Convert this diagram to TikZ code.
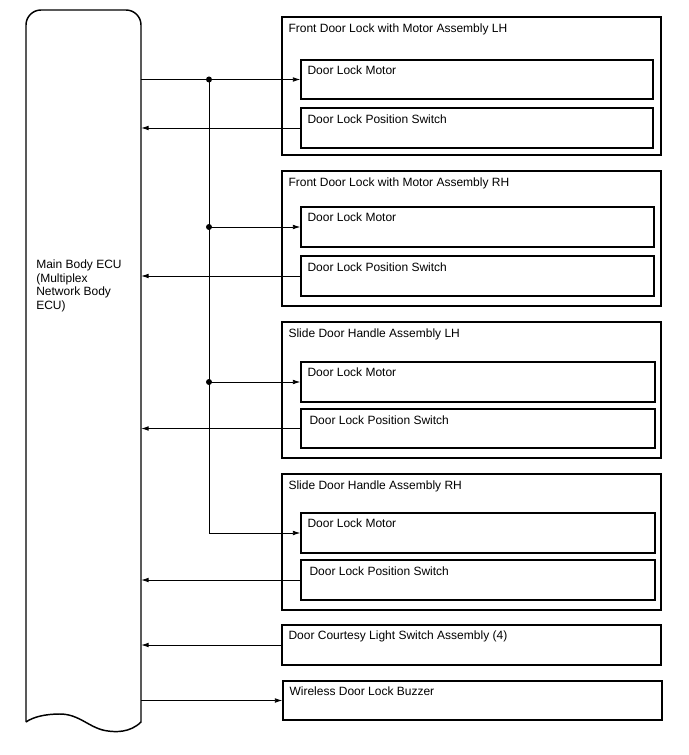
\documentclass[tikz,border=0pt]{standalone}
\usepackage{fontspec}
\setmainfont{Liberation Sans}
\usetikzlibrary{arrows.meta,fit,calc}
\begin{document}
\begin{tikzpicture}[x=0.75pt,y=-0.75pt,
  box/.style={draw, line width=1.1pt, inner sep=0pt},
  lbl/.style={anchor=base west, inner sep=0pt, font=\fontsize{9}{10.5}\selectfont},
  conn/.style={line width=0.6pt},
  arr/.style={conn, -{Latex[length=5.5pt,width=3.5pt]}},
  dot/.style={circle, fill, inner sep=0pt, minimum size=4.5pt}]
\useasboundingbox (0,0) rectangle (688,755);
% ECU
\node[inner sep=0pt, fit={(26,10)(141,722)}] (ecu) {};
\draw[line width=1.1pt] (26,722) -- (26,25) arc[start angle=180,end angle=90,radius=15*0.75pt] -- (126,10)
  arc[start angle=90,end angle=0,radius=15*0.75pt] -- (141,722)
  .. controls (130,733) and (115,732) .. (108,731)
  .. controls (90,729) and (80,714) .. (60,714)
  .. controls (45,714) and (33,717) .. (26,722);
\node[anchor=north west, inner sep=0pt, align=left, font=\fontsize{9}{10.1}\selectfont] (ecut) at (36,260)
  {Main Body ECU\\(Multiplex\\Network Body\\ECU)};
% boxes
\node[box, fit={(282,17)(661,155)}] (o1) {};
\node[box, fit={(301,60)(653,99)}] (m1) {};
\node[box, fit={(301,108)(653,148)}] (s1) {};
\node[box, fit={(282,171)(661,306)}] (o2) {};
\node[box, fit={(301,207)(654,247)}] (m2) {};
\node[box, fit={(301,256)(654,296)}] (s2) {};
\node[box, fit={(282,322)(661,458)}] (o3) {};
\node[box, fit={(301,362)(655,402)}] (m3) {};
\node[box, fit={(301,409)(655,448)}] (s3) {};
\node[box, fit={(282,474)(661,610)}] (o4) {};
\node[box, fit={(301,513)(655,553)}] (m4) {};
\node[box, fit={(301,560)(655,600)}] (s4) {};
\node[box, fit={(282,625)(661,665)}] (dc) {};
\node[box, fit={(283,681)(662,720)}] (bz) {};
% labels
\node[lbl] (t1) at ($(o1.north west)+(7,16)$) {Front Door Lock with Motor Assembly LH};
\node[lbl] (t2) at ($(o2.north west)+(7,16)$) {Front Door Lock with Motor Assembly RH};
\node[lbl] (t3) at ($(o3.north west)+(7,16)$) {Slide Door Handle Assembly LH};
\node[lbl] (t4) at ($(o4.north west)+(7,16)$) {Slide Door Handle Assembly RH};
\foreach \n in {m1,m2,m3,m4} \node[lbl] at ($(\n.north west)+(7,15)$) {Door Lock Motor};
\foreach \n in {s1,s2} \node[lbl] at ($(\n.north west)+(7,16)$) {Door Lock Position Switch};
\foreach \n in {s3,s4} \node[lbl] at ($(\n.north west)+(9,16)$) {Door Lock Position Switch};
\node[lbl] (tdc) at ($(dc.north west)+(7,15)$) {Door Courtesy Light Switch Assembly (4)};
\node[lbl] (tbz) at ($(bz.north west)+(7,15)$) {Wireless Door Lock Buzzer};
% connectors
\coordinate (bus) at (209,0);
\draw[arr] (ecu.east |- m1.west) -- (m1.west);
\draw[conn] (bus |- m1.west) -- (bus |- m3.west);
\draw[arr] (bus |- m3.west) |- (m4.west);
\draw[arr] (bus |- m2.west) -- (m2.west);
\draw[arr] (bus |- m3.west) -- (m3.west);
\foreach \n in {m1,m2,m3} \node[dot] at (bus |- \n.west) {};
\foreach \n in {s1,s2,s3,s4,dc} \draw[arr] (\n.west) -- (ecu.east |- \n.west);
\draw[arr] (ecu.east |- bz.west) -- (bz.west);
\end{tikzpicture}
\end{document}
